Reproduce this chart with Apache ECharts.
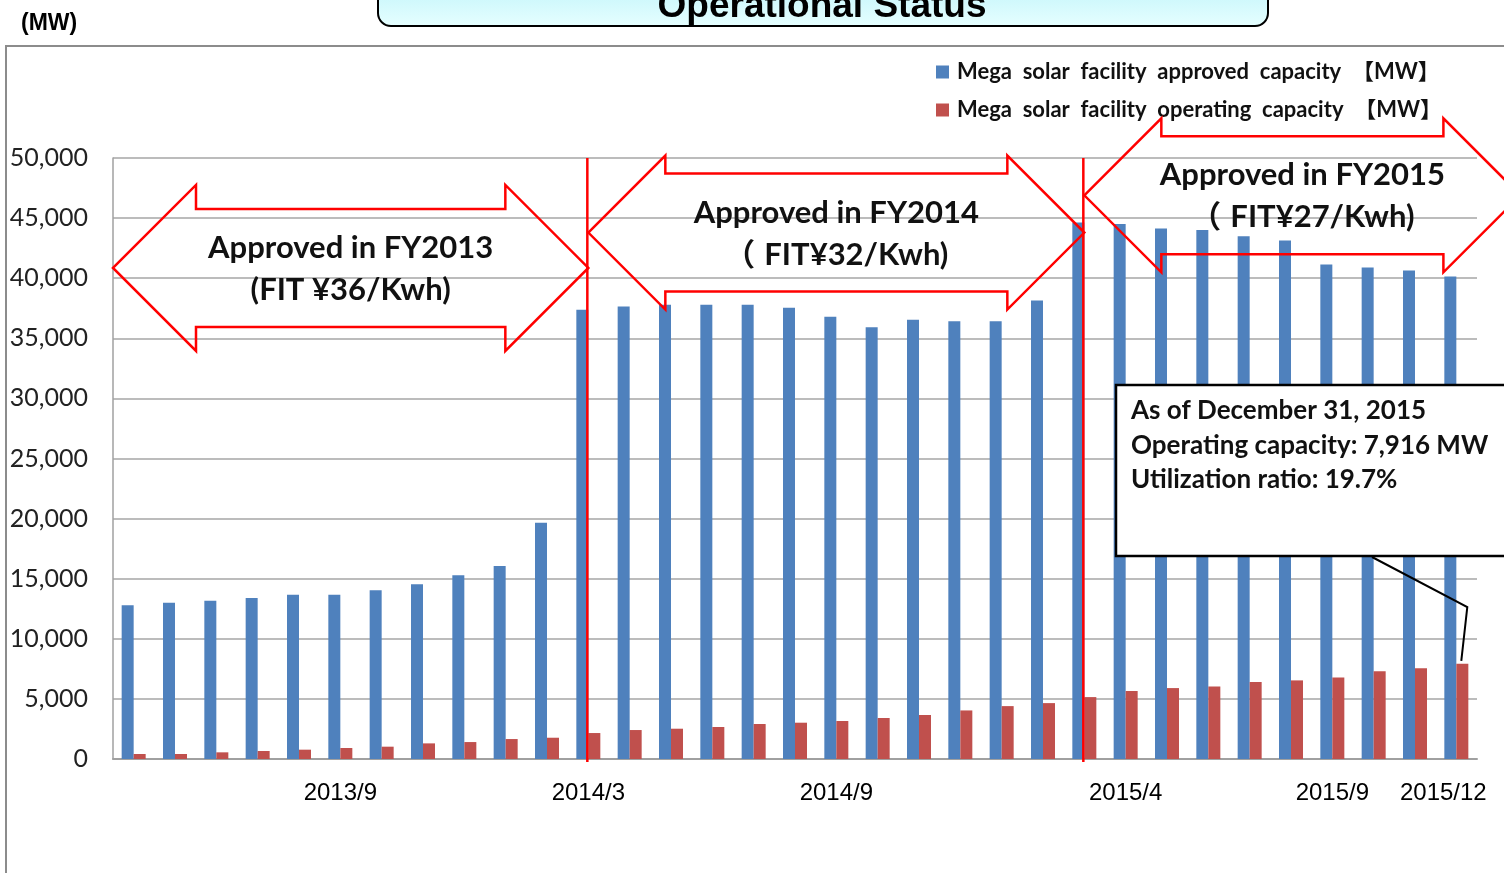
<!DOCTYPE html>
<html>
<head>
<meta charset="utf-8">
<script src="https://cdn.jsdelivr.net/npm/echarts@6/dist/echarts.min.js"></script>
<style>
  html, body { margin: 0; padding: 0; background: #fff; }
  #chart { width: 1504px; height: 873px; }
</style>
</head>
<body>
<div id="chart"></div>
<script>
// months shown on the category axis
const months = [
  "2013/4", "2013/5", "2013/6", "2013/7", "2013/8", "2013/9", "2013/10", "2013/11", "2013/12",
  "2014/1", "2014/2", "2014/3", "2014/4", "2014/5", "2014/6", "2014/7", "2014/8", "2014/9",
  "2014/10", "2014/11", "2014/12", "2015/1", "2015/2", "2015/3", "2015/4", "2015/5", "2015/6",
  "2015/7", "2015/8", "2015/9", "2015/10", "2015/11", "2015/12"
];
const shownMonths = ["2013/9", "2014/3", "2014/9", "2015/4", "2015/9", "2015/12"];

// capacity values (MW)
const approvedMW = [
  12790, 13000, 13170, 13390, 13670, 13670, 14030, 14530, 15280, 16060, 19660,
  37380, 37650, 37790, 37790, 37790, 37540, 36800, 35910, 36550, 36410, 36410, 38150,
  44640, 44500, 44140, 44000, 43500, 43140, 41140, 40890, 40640, 40140
];
const operatingMW = [
  415, 415, 554, 665, 776, 914, 1025, 1300, 1410, 1660, 1770,
  2160, 2410, 2520, 2660, 2910, 3020, 3160, 3410, 3660, 4040, 4400, 4650,
  5150, 5650, 5900, 6040, 6400, 6540, 6790, 7290, 7560, 7916
];
const seriesNames = [
  "Mega  solar  facility  approved  capacity  \u3010MW\u3011",
  "Mega  solar  facility  operating  capacity  \u3010MW\u3011"
];

// FIT periods and the month each new one starts
const periodBreaks = ["2014/3", "2015/3"];
const periodTitles = ["Approved in FY2013", "Approved in FY2014", "Approved in FY2015"];
const periodRates = ["(FIT \u00a536/Kwh)", "{p|\uff08}FIT\u00a532/Kwh)", "{p|\uff08}FIT\u00a527/Kwh)"];

const noteLines = [
  "As of December 31, 2015",
  "Operating capacity: 7,916 MW",
  "Utilization ratio: 19.7%"
];

const calibri = 'Lato, "Noto Sans CJK JP", sans-serif';
const arial = '"Liberation Sans", Arial, sans-serif';

const chart = echarts.init(document.getElementById("chart"));

chart.setOption({
  animation: false,
  backgroundColor: "#fff",
  grid: { left: 113, right: 27, top: 158, bottom: 114 },
  legend: {
    orient: "vertical",
    left: 931,
    top: 56,
    itemWidth: 13,
    itemHeight: 13,
    itemGap: 16,
    icon: "rect",
    textStyle: { fontFamily: calibri, fontWeight: "bold", fontSize: 22, color: "#111", padding: [0, 0, 0, 3] },
    data: seriesNames
  },
  xAxis: {
    type: "category",
    data: months,
    axisTick: { show: false },
    axisLine: { lineStyle: { color: "#a0a0a0", width: 2 } },
    axisLabel: {
      interval: (i, v) => shownMonths.includes(v),
      formatter: (v, i) => (i === months.length - 1 ? "{end|" + v + "}" : v),
      rich: { end: { fontFamily: arial, fontSize: 24, color: "#000", padding: [0, 26, 0, 0] } },
      fontFamily: arial,
      fontSize: 24,
      color: "#000",
      margin: 22
    }
  },
  yAxis: {
    type: "value",
    min: 0,
    max: 50000,
    interval: 5000,
    axisLine: { show: true, lineStyle: { color: "#a0a0a0", width: 1.5 } },
    axisTick: { show: false },
    splitLine: { lineStyle: { color: "#a6a6a6", width: 1.5 } },
    axisLabel: {
      fontFamily: calibri,
      fontSize: 25,
      color: "#222",
      margin: 25,
      formatter: (v) => v.toLocaleString("en-US")
    }
  },
  series: [
    {
      name: seriesNames[0],
      type: "bar",
      data: approvedMW,
      barWidth: 12,
      barGap: "0%",
      itemStyle: { color: "#4f81bd" }
    },
    {
      name: seriesNames[1],
      type: "bar",
      data: operatingMW,
      barWidth: 12,
      itemStyle: { color: "#c0504d" }
    }
  ]
});

// annotations anchored on the axes
const x0 = chart.convertToPixel({ xAxisIndex: 0 }, 0);
const band = chart.convertToPixel({ xAxisIndex: 0 }, 1) - x0;
const xAt = (i) => x0 + i * band;
const yAt = (v) => chart.convertToPixel({ yAxisIndex: 0 }, v);

// arrow spans in category index, centre level in MW, head size
const arrowSpans = [[-0.5, 11, 40850, 83], [11, 23, 43800, 77], [23, 33.55, 46900, 77]];
const shaft = 59;

const graphics = [
  { type: "polyline", z: 50, shape: { points: [[6, 873], [6, 46], [1504, 46]] }, style: { stroke: "#8c8c8c", lineWidth: 2, fill: null } },
  { type: "text", z: 50, x: 21, y: 24, style: { text: "(MW)", font: "bold 23px " + arial, fill: "#000", verticalAlign: "middle" } },
  {
    type: "rect", z: 50,
    shape: { x: 378, y: -20, width: 890, height: 46, r: 13 },
    style: {
      fill: new echarts.graphic.LinearGradient(0, 0, 0, 1, [
        { offset: 0, color: "#bff3fa" },
        { offset: 1, color: "#e6ffff" }
      ]),
      stroke: "#000",
      lineWidth: 2
    }
  },
  { type: "text", z: 51, x: 822, y: 7, style: { text: "Operational Status", font: "bold 37px " + arial, fill: "#000", align: "center", verticalAlign: "middle" } }
];

// red lines where each FIT period starts
periodBreaks.forEach((m) => {
  const x = xAt(months.indexOf(m)) - 1;
  graphics.push({ type: "line", z: 55, shape: { x1: x, y1: yAt(50000), x2: x, y2: yAt(0) + 3 }, style: { stroke: "#ff0000", lineWidth: 2.5 } });
});

arrowSpans.forEach(([a, b, level, h], k) => {
  const L = xAt(a), R = xAt(b), yc = yAt(level);
  graphics.push({
    type: "polygon", z: 60,
    shape: {
      points: [
        [L, yc], [L + h, yc - h], [L + h, yc - shaft], [R - h, yc - shaft], [R - h, yc - h],
        [R, yc], [R - h, yc + h], [R - h, yc + shaft], [L + h, yc + shaft], [L + h, yc + h]
      ]
    },
    style: { fill: null, stroke: "#ff0000", lineWidth: 2.5 }
  });
  const cx = (L + R) / 2;
  const txt = { fontFamily: calibri, fontWeight: "bold", fontSize: 31, fill: "#111", align: "center", verticalAlign: "middle" };
  graphics.push({ type: "text", z: 61, x: cx, y: yc - 20, style: Object.assign({ text: periodTitles[k] }, txt) });
  graphics.push({
    type: "text", z: 61, x: cx, y: yc + 22,
    style: Object.assign({
      text: periodRates[k],
      rich: { p: { fontFamily: calibri, fontWeight: "bold", fontSize: 31, fill: "#111", padding: [0, 9, 0, 0] } }
    }, txt)
  });
});

// callout box pointing at the latest operating bar
const last = months.length - 1;
const tipX = xAt(last) + band * 0.12;
const tipY = yAt(operatingMW[last]) - 3;
graphics.push({ type: "rect", z: 70, shape: { x: 1116, y: 385, width: 420, height: 171 }, style: { fill: "#fff", stroke: "#000", lineWidth: 2.5 } });
noteLines.forEach((t, i) => {
  graphics.push({ type: "text", z: 71, x: 1131, y: 411 + i * 34.5, style: { text: t, font: "bold 26px " + calibri, fill: "#111", verticalAlign: "middle" } });
});
graphics.push({ type: "polyline", z: 70, shape: { points: [[1372, 557], [tipX + 6, 607], [tipX, tipY]] }, style: { stroke: "#000", lineWidth: 2, fill: null } });

chart.setOption({ graphic: graphics });
</script>
</body>
</html>
